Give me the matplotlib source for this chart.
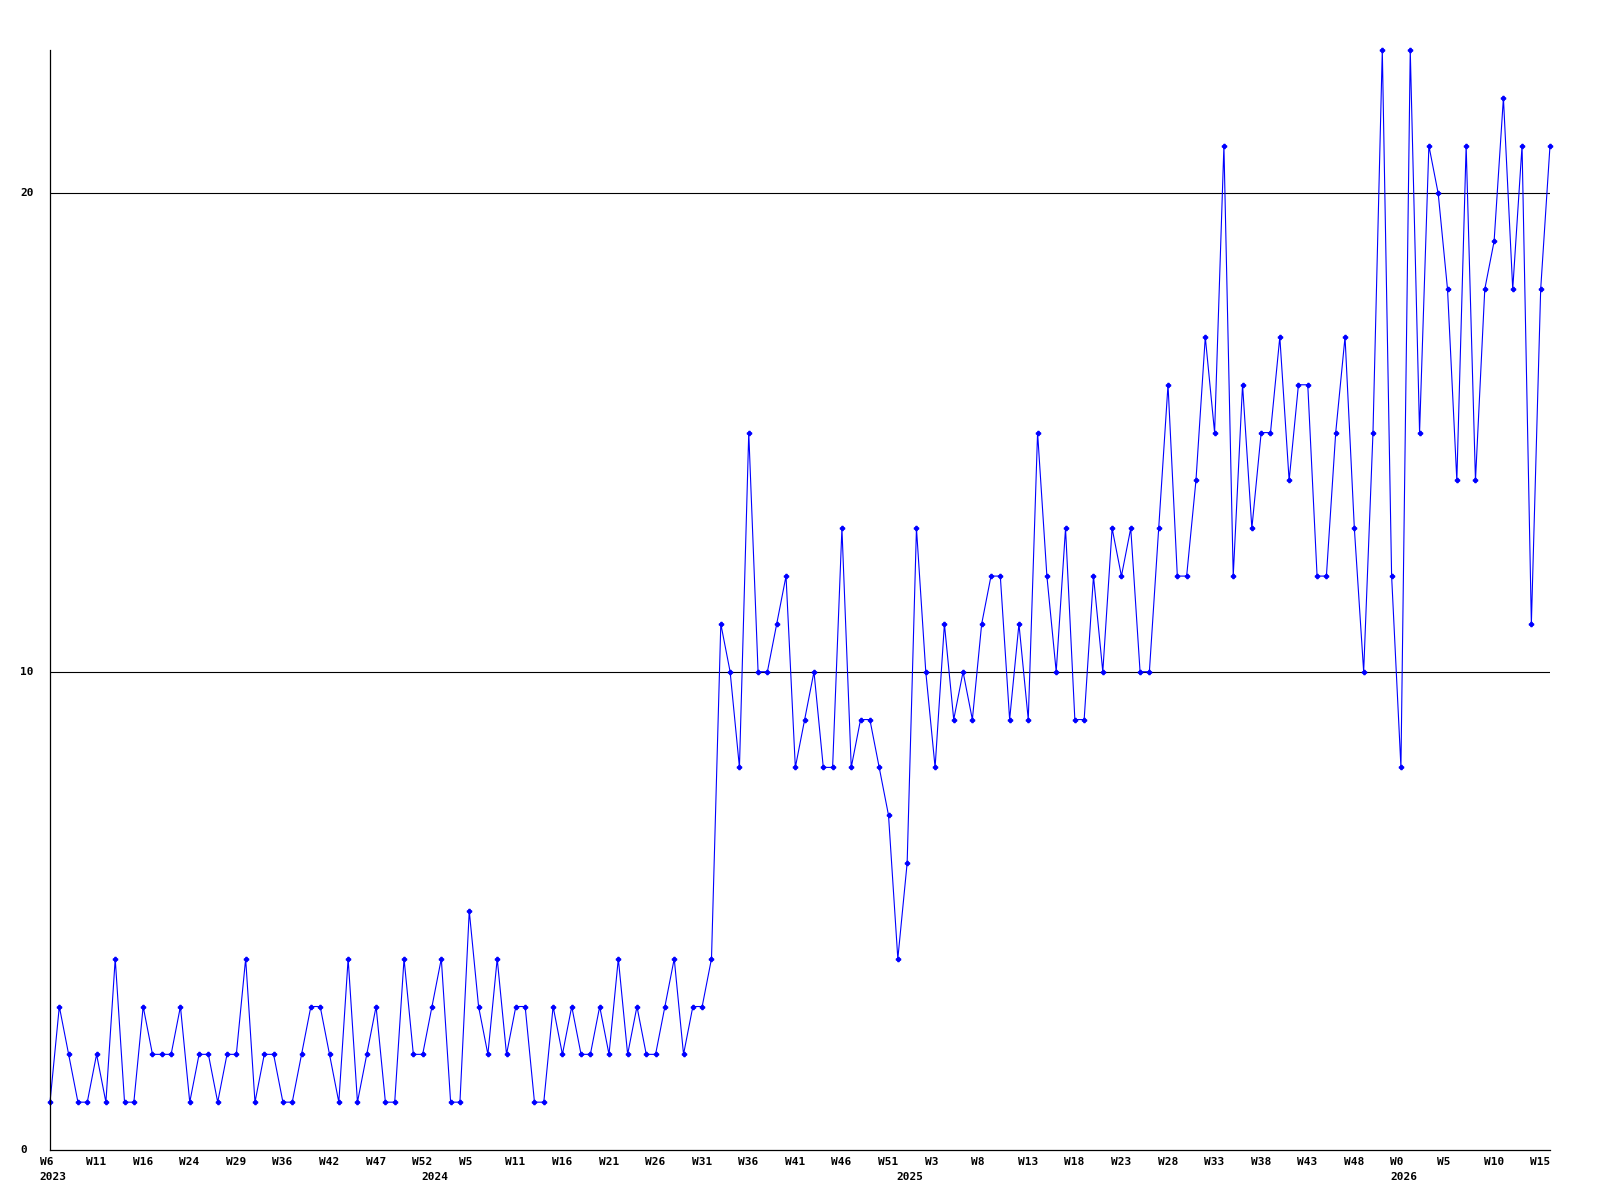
import matplotlib
matplotlib.use('Agg')
import matplotlib.pyplot as plt         # plotting library
import matplotlib.transforms as mtransforms

# weekly counts, one value per week (oldest first)
counts = [1, 3, 2, 1, 1, 2, 1, 4, 1, 1, 3, 2, 2, 2, 3, 1, 2, 2, 1, 2,
          2, 4, 1, 2, 2, 1, 1, 2, 3, 3, 2, 1, 4, 1, 2, 3, 1, 1,
          4, 2, 2, 3, 4, 1, 1, 5, 3, 2, 4, 2, 3, 3, 1, 1, 3, 2, 3, 2,
          2, 3, 2, 4, 2, 3, 2, 2, 3, 4, 2, 3, 3, 4,
          11, 10, 8, 15, 10, 10, 11, 12, 8, 9, 10, 8, 8, 13, 8, 9, 9, 8,
          7, 4, 6, 13, 10, 8, 11, 9, 10, 9, 11, 12, 12, 9, 11, 9, 15, 12,
          10, 13, 9,
          9, 12, 10, 13, 12, 13, 10, 10, 13, 16, 12, 12, 14, 17, 15, 21,
          12, 16, 13, 15, 15, 17, 14, 16, 16, 12, 12, 15, 17, 13, 10, 15,
          23, 12, 8, 23, 15, 21, 20, 18, 14, 21, 14, 18, 19, 22, 18, 21,
          11, 18, 21]

# week labels, one every 5 points
week_labels = ['W6', 'W11', 'W16', 'W24', 'W29', 'W36', 'W42', 'W47', 'W52',
               'W5', 'W11', 'W16', 'W21', 'W26', 'W31', 'W36', 'W41', 'W46',
               'W51', 'W3', 'W8', 'W13', 'W18', 'W23', 'W28', 'W33', 'W38',
               'W43', 'W48', 'W0', 'W5', 'W10', 'W15']
label_step = 5

# year labels and the point they start at
years = ['2023', '2024', '2025', '2026']
year_pos = [0, 41, 92, 145]

y_ticks = [0, 10, 20]


def main():
    fig = plt.figure(figsize=(16, 12), dpi=100)
    ax = fig.add_axes([50/1600, 50/1200, 1500/1600, 1100/1200])

    x = list(range(len(counts)))
    ax.plot(x, counts, color='#0000ff', lw=0.8, marker='P', ms=3,
            mec='#0000ff', mfc='#0000ff', clip_on=False)

    ax.set_xlim(0, len(counts) - 1)
    ax.set_ylim(0, max(counts))

    for v in y_ticks[1:]:
        ax.axhline(v, color='black', lw=0.8, zorder=0)

    for s in ['top', 'right']:
        ax.spines[s].set_visible(False)
    ax.spines['left'].set_linewidth(0.9)
    ax.spines['bottom'].set_linewidth(0.9)
    ax.set_xticks([])
    ax.set_yticks([])

    font = dict(family='DejaVu Sans Mono', fontsize=8, fontweight='bold')

    # x labels, left aligned a bit before the point
    shift = mtransforms.ScaledTranslation(-10.5/100, 0, fig.dpi_scale_trans)
    tr = ax.get_xaxis_transform() + shift
    for k, lab in enumerate(week_labels):
        ax.text(k*label_step, -12/1100, lab, transform=tr,
                ha='left', va='center', **font)
    for yr, p in zip(years, year_pos):
        ax.text(p, -27/1100, yr, transform=tr, ha='left', va='center', **font)

    # y labels at the left edge of the figure
    ytr = mtransforms.blended_transform_factory(fig.transFigure, ax.transData)
    for v in y_ticks:
        ax.text(20/1600, v, str(v), transform=ytr, ha='left', va='center',
                **font)

    fig.savefig('out.png', dpi=100)


main()
